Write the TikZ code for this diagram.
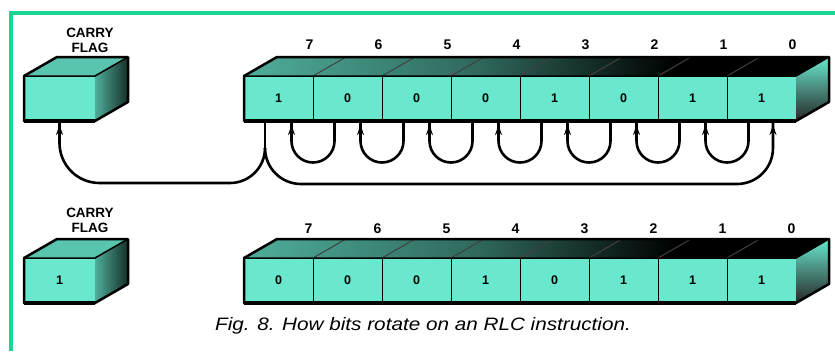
\documentclass[tikz,border=0pt]{standalone}
\usepackage{fontspec}
\usepackage{graphicx}
\setmainfont{Liberation Sans}
\usetikzlibrary{arrows.meta,decorations.markings,calc}
\definecolor{tealc}{RGB}{105,232,205}
\definecolor{framec}{RGB}{25,215,145}
\pgfdeclarehorizontalshading{topface}{100bp}{color(0bp)=(tealc!75!black); color(25bp)=(tealc!75!black); color(45bp)=(tealc!45!black); color(62bp)=(black); color(100bp)=(black)}
\begin{document}
\begin{tikzpicture}[x=1pt,y=1pt,
  cell/.style={draw=black, line width=1pt, fill=tealc, minimum width=69pt, minimum height=45pt, inner sep=0pt, outer sep=0pt, font=\fontsize{12.5}{12.5}\selectfont\bfseries},
  outline/.style={draw=black, line width=2.5pt, line join=round},
  topdiv/.style={draw=black!75, line width=1pt},
  bitlbl/.style={font=\fontsize{14}{14}\selectfont\bfseries, inner sep=0pt},
  flaglbl/.style={font=\fontsize{13.5}{15}\selectfont\bfseries, align=center, inner sep=0pt},
  link/.style={draw=black, line width=2.6pt},
  tipmark/.style={postaction={decorate}, decoration={markings, mark=at position -4pt with {\arrow{Stealth[length=10pt,width=7pt]}}}}
]
\useasboundingbox (0,0) rectangle (835,-351);
% frame
\draw[framec, line width=4pt] (10.5,-351) -- (10.5,-12.5) -- (835,-12.5);

% ---------- top register ----------
\foreach \b [count=\i from 0] in {1,0,0,0,1,0,1,1}{
  \pgfmathtruncatemacro\n{7-\i}
  \node[cell] (t\n) at (278.5+69*\i,-98.5) {\b};
  \node[bitlbl] (lt\n) at ($(t\n.north)+(31,31)$) {\n};
}
\shade[shading=topface] (t7.north west) -- (t0.north east) -- ++(33,19) -- ++(-552,0) -- cycle;
\foreach \n in {7,...,1} \draw[topdiv] (t\n.north east) -- ++(33,19);
\shade[top color=tealc, bottom color=black!85] (t0.north east) -- ++(33,19) -- ++(0,-45) -- (t0.south east) -- cycle;
\draw[outline] (t7.south west) -- (t7.north west) -- ++(33,19) -- ++(552,0) -- ++(0,-45) -- (t0.south east) -- cycle;
\draw[outline, line width=1.5pt] (t7.north west) -- (t0.north east) -- ++(33,19);
\draw[black, line width=3.5pt] (t7.south west) -- (t0.south east);

% top carry flag
\node[cell, minimum width=71pt] (tc) at (59.5,-98.5) {};
\fill[tealc!85!black] (tc.north west) -- (tc.north east) -- ++(33,19) -- ++(-71,0) -- cycle;
\shade[left color=tealc!75!black, right color=tealc!20!black] (tc.north east) -- ++(33,19) -- ++(0,-45) -- (tc.south east) -- cycle;
\draw[outline] (tc.south west) -- (tc.north west) -- ++(33,19) -- ++(71,0) -- ++(0,-45) -- (tc.south east) -- cycle;
\draw[outline, line width=1.5pt] (tc.north west) -- (tc.north east) -- ++(33,19);
\draw[black, line width=3.5pt] (tc.south west) -- (tc.south east);
\node[flaglbl] (ltc) at (90,-40) {CARRY\\FLAG};

% loops
\foreach \k in {0,...,6}{
  \pgfmathtruncatemacro\kk{\k+1}
  \draw[link,tipmark] ([xshift=21.5pt]t\k.south west) -- ++(0,-20) arc[start angle=0,end angle=-180,radius=21.5] -- ([xshift=-21.5pt]t\kk.south east);
}
% bit 7 to carry and bit 0
\coordinate (J) at ($(t7.south west)+(21,-27)$);
\draw[link] (J |- t7.south) -- (J);
\draw[link,tipmark] (J) arc[start angle=0,end angle=-90,radius=35] -- ($(tc.south)+(40,-62)$) arc[start angle=-90,end angle=-180,radius=40] -- (tc.south);
\draw[link,tipmark] (J) arc[start angle=180,end angle=270,radius=36] -- ($(t0.south west)+(10,-63)$) arc[start angle=-90,end angle=0,radius=36] -- ([xshift=46pt]t0.south west);

% ---------- bottom register ----------
\foreach \b [count=\i from 0] in {0,0,0,1,0,1,1,1}{
  \pgfmathtruncatemacro\n{7-\i}
  \node[cell] (b\n) at (278.5+69*\i,-280.5) {\b};
  \node[bitlbl] (lb\n) at ($(b\n.north)+(30,29)$) {\n};
}
\shade[shading=topface] (b7.north west) -- (b0.north east) -- ++(33,19) -- ++(-552,0) -- cycle;
\foreach \n in {7,...,1} \draw[topdiv] (b\n.north east) -- ++(33,19);
\shade[top color=tealc, bottom color=black!85] (b0.north east) -- ++(33,19) -- ++(0,-45) -- (b0.south east) -- cycle;
\draw[outline] (b7.south west) -- (b7.north west) -- ++(33,19) -- ++(552,0) -- ++(0,-45) -- (b0.south east) -- cycle;
\draw[outline, line width=1.5pt] (b7.north west) -- (b0.north east) -- ++(33,19);
\draw[black, line width=3.5pt] (b7.south west) -- (b0.south east);

% bottom carry flag
\node[cell, minimum width=71pt] (bc) at (59.5,-280.5) {1};
\fill[tealc!85!black] (bc.north west) -- (bc.north east) -- ++(33,19) -- ++(-71,0) -- cycle;
\shade[left color=tealc!75!black, right color=tealc!20!black] (bc.north east) -- ++(33,19) -- ++(0,-45) -- (bc.south east) -- cycle;
\draw[outline] (bc.south west) -- (bc.north west) -- ++(33,19) -- ++(71,0) -- ++(0,-45) -- (bc.south east) -- cycle;
\draw[outline, line width=1.5pt] (bc.north west) -- (bc.north east) -- ++(33,19);
\draw[black, line width=3.5pt] (bc.south west) -- (bc.south east);
\node[flaglbl] (lbc) at (90,-220) {CARRY\\FLAG};

% caption
\node[inner sep=0pt] (cap) at (423,-326) {\scalebox{1.15}[1]{\fontsize{18}{18}\selectfont\itshape Fig. 8. How bits rotate on an RLC instruction.}};
\end{tikzpicture}
\end{document}
